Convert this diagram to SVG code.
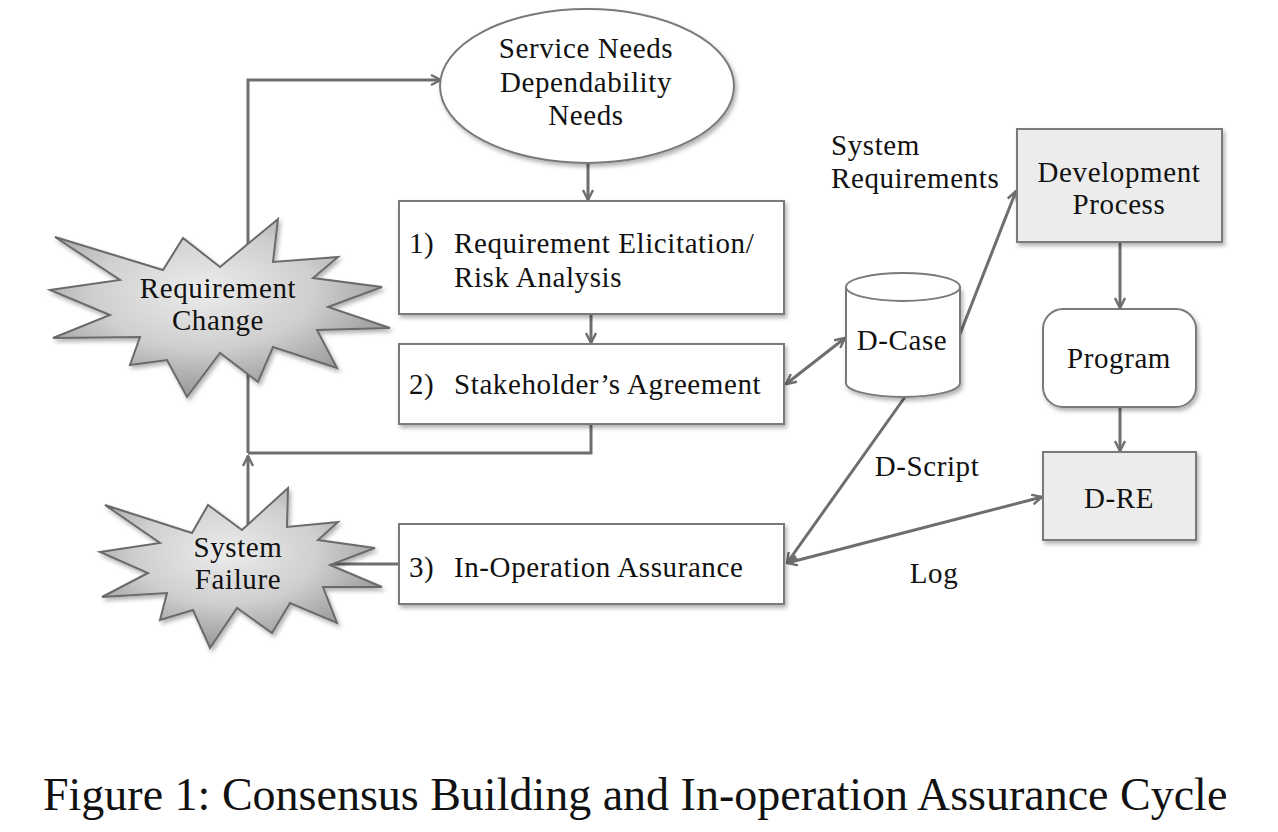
<svg xmlns="http://www.w3.org/2000/svg" width="1278" height="832" viewBox="0 0 1278 832">
<style>
  .t { font-family: "Liberation Serif", "Times New Roman", serif; font-size: 29px; fill: #111; letter-spacing: 0.6px; }
  .c { text-anchor: middle; }
  .box { fill: #ffffff; stroke: #7a7a7a; stroke-width: 2; }
  .gbox { fill: #ececec; stroke: #7a7a7a; stroke-width: 2; }
  .ln { fill: none; stroke: #6e6e6e; stroke-width: 3; }
  .burst { fill: url(#burstGrad); stroke: #6a6a6a; stroke-width: 2; stroke-linejoin: miter; }
  .cap { font-family: "Liberation Serif", "Times New Roman", serif; font-size: 46px; fill: #111; }
</style>
<defs>
  <marker id="arr" viewBox="0 0 12 12" refX="11" refY="6" markerWidth="12" markerHeight="12" markerUnits="userSpaceOnUse" orient="auto-start-reverse">
    <path d="M1,1 L11,6 L1,11" fill="none" stroke="#6e6e6e" stroke-width="2.4"/>
  </marker>
  <radialGradient id="burstGrad" cx="45%" cy="40%" r="65%">
    <stop offset="0" stop-color="#ececec"/>
    <stop offset="0.5" stop-color="#cfcfcf"/>
    <stop offset="1" stop-color="#8c8c8c"/>
  </radialGradient>
  <filter id="sh" x="-10%" y="-10%" width="130%" height="130%">
    <feDropShadow dx="2" dy="3" stdDeviation="2" flood-color="#000" flood-opacity="0.3"/>
  </filter>
</defs>

<g id="connectors">
  <polyline class="ln" points="248,453 248,80 441,80" marker-end="url(#arr)"/>
  <polyline class="ln" points="591,424 591,453 248,453"/>
  <line class="ln" x1="248" y1="525" x2="248" y2="456" marker-end="url(#arr)"/>
  <line class="ln" x1="330" y1="564" x2="399" y2="564"/>
  <line class="ln" x1="588" y1="163" x2="588" y2="200" marker-end="url(#arr)"/>
  <line class="ln" x1="591" y1="314" x2="591" y2="343" marker-end="url(#arr)"/>
  <line class="ln" x1="786" y1="384" x2="845" y2="338" marker-start="url(#arr)" marker-end="url(#arr)"/>
  <line class="ln" x1="960" y1="334" x2="1016" y2="191" marker-end="url(#arr)"/>
  <line class="ln" x1="905" y1="397" x2="787" y2="563" marker-end="url(#arr)"/>
  <line class="ln" x1="787" y1="563" x2="1042" y2="497" marker-start="url(#arr)" marker-end="url(#arr)"/>
  <line class="ln" x1="1120" y1="243" x2="1120" y2="308" marker-end="url(#arr)"/>
  <line class="ln" x1="1120" y1="407" x2="1120" y2="451" marker-end="url(#arr)"/>
</g>

<g id="needs">
  <ellipse cx="587" cy="86" rx="147" ry="77" class="box" filter="url(#sh)"/>
  <text class="t c" x="586" y="58">Service Needs</text>
  <text class="t c" x="586" y="92">Dependability</text>
  <text class="t c" x="586" y="125">Needs</text>
</g>

<g id="elicitation">
  <rect x="399" y="201" width="385" height="113" class="box" filter="url(#sh)"/>
  <text class="t" x="409" y="253">1)</text>
  <text class="t" x="454" y="253">Requirement Elicitation/</text>
  <text class="t" x="454" y="287">Risk Analysis</text>
</g>

<g id="agreement">
  <rect x="399" y="344" width="385" height="80" class="box" filter="url(#sh)"/>
  <text class="t" x="409" y="394">2)</text>
  <text class="t" x="454" y="394">Stakeholder’s Agreement</text>
</g>

<g id="operation">
  <rect x="399" y="524" width="385" height="80" class="box" filter="url(#sh)"/>
  <text class="t" x="409" y="577">3)</text>
  <text class="t" x="454" y="577">In-Operation Assurance</text>
</g>

<g id="req-change">
  <polygon class="burst" filter="url(#sh)" points="55,237 163,270 183,238 220,267 278,219 273,262 338,257 313,278 382,287 328,307 390,328 317,330 337,368 273,347 258,382 220,353 187,397 167,360 130,365 140,337 53,338 110,315 50,290 120,280"/>
  <text class="t c" x="218" y="298">Requirement</text>
  <text class="t c" x="218" y="330">Change</text>
</g>

<g id="sys-failure">
  <polygon class="burst" filter="url(#sh)" points="105,505 192,533 208,505 242,530 288,488 287,527 338,522 318,540 375,548 330,565 382,587 323,587 337,623 290,603 272,633 237,608 210,648 193,610 160,620 167,593 102,597 148,573 100,552 160,543"/>
  <text class="t c" x="238" y="557">System</text>
  <text class="t c" x="238" y="589">Failure</text>
</g>

<g id="dcase">
  <path d="M846,287 L846,383 A57,14 0 0 0 960,383 L960,287" class="box" filter="url(#sh)"/>
  <ellipse cx="903" cy="287" rx="57" ry="14" class="box"/>
  <text class="t c" x="902" y="350">D-Case</text>
</g>

<g id="devproc">
  <rect x="1017" y="129" width="205" height="113" class="gbox" filter="url(#sh)"/>
  <text class="t c" x="1119" y="182">Development</text>
  <text class="t c" x="1119" y="214">Process</text>
</g>

<g id="program">
  <rect x="1043" y="309" width="153" height="98" rx="20" ry="20" class="box" filter="url(#sh)"/>
  <text class="t c" x="1119" y="368">Program</text>
</g>

<g id="dre">
  <rect x="1043" y="452" width="153" height="88" class="gbox" filter="url(#sh)"/>
  <text class="t c" x="1119" y="508">D-RE</text>
</g>

<g id="labels">
  <text class="t" x="831" y="155">System</text>
  <text class="t" x="831" y="188">Requirements</text>
  <text class="t c" x="927" y="476">D-Script</text>
  <text class="t c" x="934" y="583">Log</text>
</g>

<g id="caption">
  <text class="cap" x="43" y="810">Figure 1: Consensus Building and In-operation Assurance Cycle</text>
</g>
</svg>
